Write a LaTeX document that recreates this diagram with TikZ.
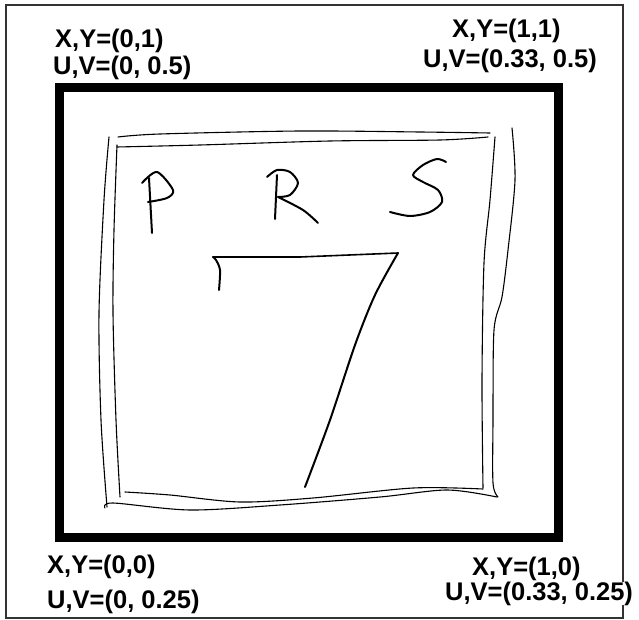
\documentclass[tikz,border=0pt]{standalone}
\usepackage{fontspec}
\setmainfont{Liberation Sans}
\begin{document}
\begin{tikzpicture}[x=1pt, y=-1pt,
    corner/.style={anchor=base west, inner sep=0pt, fill=white, font=\fontsize{25.5}{30}\selectfont\bfseries},
    sketch/.style={line width=1.1pt, line cap=round, line join=round},
    pen/.style={line width=2pt, line cap=round, line join=round}]
    % --- 定义画布尺寸 ---
    \def\W{639}      % 图宽
    \def\H{620}      % 图高
    \useasboundingbox (0,0) rectangle (\W,\H);

    % --- 外框与粗黑方框 ---
    \draw[line width=1.3pt, black!80] (6,5) rectangle (623,618);
    \draw[line width=9pt] (59.5,88) rectangle (558.5,537);

    % --- 手绘双线方框 ---
    % 左侧两条线
    \draw[sketch] plot[smooth] coordinates {(109,137) (104,200) (99,313) (101,420) (107,507)};
    \draw[sketch] plot[smooth] coordinates {(117,145) (114,230) (113,313) (116,420) (120,497)};
    % 上侧两条线
    \draw[sketch] plot[smooth] coordinates {(118,137) (160,134) (300,131) (420,132) (490,133)};
    \draw[sketch] plot[smooth] coordinates {(117,147) (200,145) (330,141) (440,140) (488,137)};
    % 右侧两条线
    \draw[sketch] plot[smooth] coordinates {(495,137) (490,200) (484,263) (482,380) (483,488)};
    \draw[sketch] plot[smooth] coordinates {(512,128) (515,180) (508,250) (502,297) (494,330) (493,420) (493,483) (498,497)};
    % 下侧两条线
    \draw[sketch] plot[smooth] coordinates {(125,492) (170,495) (240,502) (313,498) (413,488) (483,489)};
    \draw[sketch] plot[smooth] coordinates {(105,508) (113,503) (190,510) (280,505) (380,497) (447,490) (497,497)};

    % --- 手写字母 P R S ---
    \draw[pen] (149,178) -- (152,233);
    \draw[pen] plot[smooth] coordinates {(142,183) (157,172) (173,190) (167,198) (148,202)};
    \draw[pen] (277,175) -- (275,219);
    \draw[pen] plot[smooth] coordinates {(267,177) (277,170) (290,172) (298,183) (290,195) (278,197)};
    \draw[pen] plot[smooth] coordinates {(278,197) (303,210) (318,223)};
    \draw[pen] plot[smooth] coordinates {(446,162) (437,159) (423,165) (413,175) (423,182) (438,190) (442,202) (430,212) (410,216) (390,212)};

    % --- 手写数字 7 ---
    \draw[pen] plot[smooth] coordinates {(219,290) (220,270) (216,260) (213,257)};
    \draw[sketch, line width=1.6pt] (213,257) -- (300,257) -- (398,253);
    \draw[pen] plot[smooth] coordinates {(398,253) (375,295) (355,345) (330,420) (305,487)};

    % --- 四角坐标标签 ---
    \node[corner] (tlxy) at (55,48) {X,Y=(0,1)};
    \node[corner] (tluv) at (53,75) {U,V=(0, 0.5)};
    \node[corner] (trxy) at (452,38) {X,Y=(1,1)};
    \node[corner] (truv) at (423,68) {U,V=(0.33, 0.5)};
    \node[corner] (blxy) at (47,573) {X,Y=(0,0)};
    \node[corner] (bluv) at (47,608) {U,V=(0, 0.25)};
    \node[corner] (brxy) at (472,575) {X,Y=(1,0)};
    \node[corner] (bruv) at (445,600) {U,V=(0.33, 0.25)};
\end{tikzpicture}
\end{document}
